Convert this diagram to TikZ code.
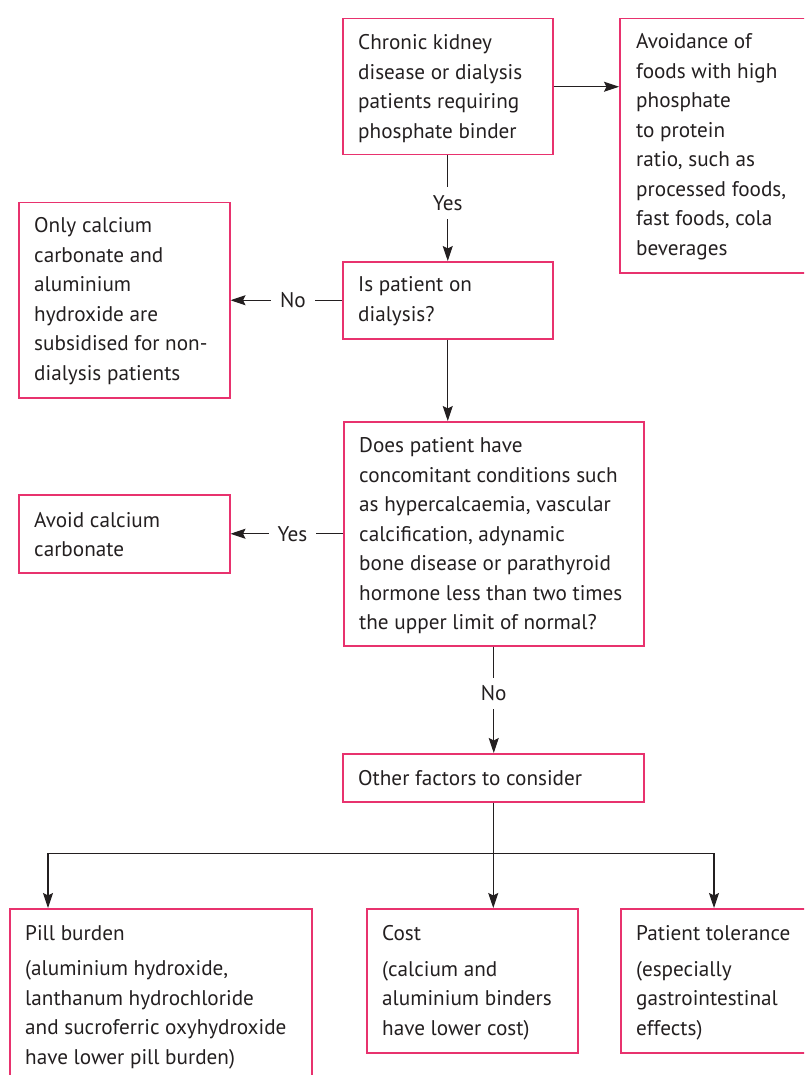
\documentclass[tikz,border=0pt]{standalone}
\usepackage{fontspec}
\setmainfont{PT Sans}
\usetikzlibrary{arrows.meta,calc}
\definecolor{pinkb}{RGB}{232,50,110}
\definecolor{ink}{RGB}{35,31,32}
\begin{document}
\begin{tikzpicture}[x=1pt,y=-1pt,
 box/.style={draw=pinkb,line width=1.5pt,rectangle,inner sep=0pt,anchor=north west},
 txt/.style={anchor=west,align=left,inner sep=0pt,text=ink,font=\fontsize{21.2}{29.5}\selectfont},
 lbl/.style={fill=white,inner xsep=9pt,inner ysep=8pt,text=ink,font=\fontsize{21.2}{29.5}\selectfont},
 arr/.style={draw=ink,line width=1.1pt,-{Stealth[length=15pt,width=10pt,inset=2.5pt]}},
 ln/.style={draw=ink,line width=1.1pt}]
\useasboundingbox (0,0) rectangle (804,1075);
\clip (0,0) rectangle (804,1075);
% boxes
\node[box,minimum width=210pt,minimum height=136pt] (A) at (342,18) {};
\node[box,minimum width=230pt,minimum height=254pt] (B) at (619,18) {};
\node[box,minimum width=210pt,minimum height=77pt] (C) at (342,261) {};
\node[box,minimum width=211pt,minimum height=195pt] (D) at (18,202) {};
\node[box,minimum width=300pt,minimum height=224pt] (E) at (343,421) {};
\node[box,minimum width=211pt,minimum height=78pt] (F) at (18,494) {};
\node[box,minimum width=301pt,minimum height=48pt] (G) at (342,753) {};
\node[box,minimum width=302pt,minimum height=177pt] (H) at (9,908) {};
\node[box,minimum width=211pt,minimum height=144pt] (I) at (366,908) {};
\node[box,minimum width=230pt,minimum height=144pt] (J) at (620,908) {};
% texts
\node[txt] (At) at ($(A.west)+(16,2)$) {Chronic kidney\\disease or dialysis\\patients requiring\\phosphate binder};
\node[txt] (Bt) at ($(B.west)+(17,1)$) {Avoidance of\\foods with high\\phosphate\\to protein\\ratio, such as\\processed foods,\\fast foods, cola\\beverages};
\node[txt] (Ct) at ($(C.west)+(16,1)$) {Is patient on\\dialysis?};
\node[txt] (Dt) at ($(D.west)+(16,1)$) {Only calcium\\carbonate and\\aluminium\\hydroxide are\\subsidised for non-\\dialysis patients};
\node[txt] (Et) at ($(E.west)+(16,2)$) {Does patient have\\concomitant conditions such\\as hypercalcaemia, vascular\\calcification, adynamic\\bone disease or parathyroid\\hormone less than two times\\the upper limit of normal?};
\node[txt] (Ft) at ($(F.west)+(16,1)$) {Avoid calcium\\carbonate};
\node[txt] (Gt) at ($(G.west)+(16,0)$) {Other factors to consider};
\node[txt] (Ht) at ($(H.west)+(16,0)$) {Pill burden\\[6pt](aluminium hydroxide,\\lanthanum hydrochloride\\and sucroferric oxyhydroxide\\have lower pill burden)};
\node[txt] (It) at ($(I.west)+(16,2)$) {Cost\\[6pt](calcium and\\aluminium binders\\have lower cost)};
\node[txt] (Jt) at ($(J.west)+(16,2)$) {Patient tolerance\\[6pt](especially\\gastrointestinal\\effects)};
% connectors
\draw[arr] (A.east) -- (A.east -| B.west);
\draw[arr] (A.south) -- node[lbl,pos=0.45] (yes1) {Yes} (A.south |- C.north);
\draw[arr] (C.west) -- node[lbl,pos=0.44] (no1) {No} (C.west -| D.east);
\draw[arr] (C.south) -- (C.south |- E.north);
\draw[arr] (E.west) -- node[lbl,pos=0.45] (yes2) {Yes} (E.west -| F.east);
\draw[arr] (E.south) -- node[lbl,pos=0.44] (no2) {No} (E.south |- G.north);
\coordinate (split) at ($(G.south)+(0,51)$);
\draw[ln] (G.south) -- (split);
\draw[arr] (split) -| ($(H.north west)+(39,0)$);
\draw[arr] (split) -- (split |- I.north);
\draw[arr] (split) -| ($(J.north west)+(94,0)$);
\end{tikzpicture}
\end{document}
